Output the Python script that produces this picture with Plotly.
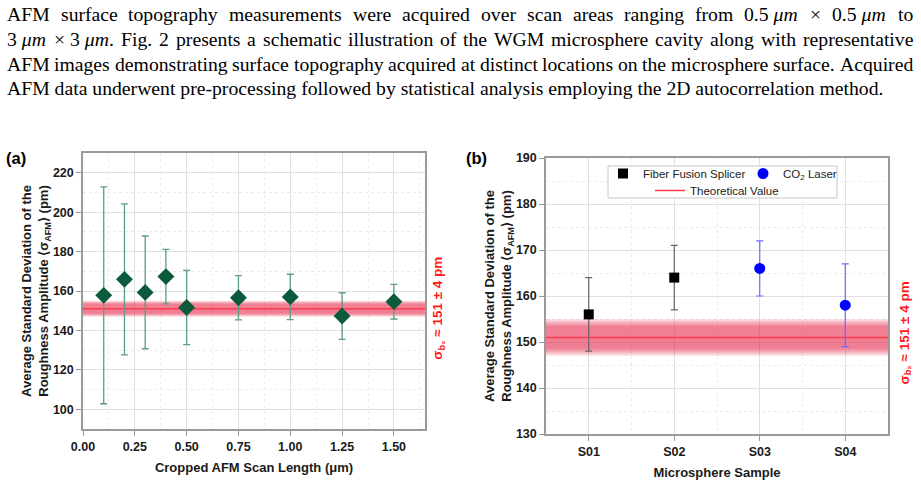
import plotly.graph_objects as go

# ---------------- data ----------------
# Panel (a)
scan_length = [0.10, 0.20, 0.30, 0.40, 0.50, 0.75, 1.00, 1.25, 1.50]
sigma_afm = [157.8, 165.9, 159.3, 167.3, 151.6, 156.6, 157.0, 147.3, 154.6]
sigma_err = [55.0, 38.3, 28.6, 13.8, 18.8, 11.2, 11.5, 11.8, 8.8]

# Panel (b)
samples = ["S01", "S02", "S03", "S04"]
fusion_samples = ["S01", "S02"]
fusion_vals = [156, 164]
fusion_err = [8, 7]
laser_samples = ["S03", "S04"]
laser_vals = [166, 158]
laser_err = [6, 9]

theo_val = 151
theo_err = 4

xrange_a = [0, 1.65]
yrange_a = [90, 230]
xrange_b = [-0.5, 3.5]
yrange_b = [130, 190]

para_justified = [
    "AFM surface topography measurements were acquired over scan areas ranging from 0.5|<i>μm</i> × 0.5|<i>μm</i> to",
    "3|<i>μm</i>  ×|3|<i>μm</i>. Fig. 2 presents a schematic illustration of the WGM microsphere cavity along with representative",
    "AFM images demonstrating surface topography acquired at distinct locations on the microsphere surface. Acquired",
]
para_last = "AFM data underwent pre-processing followed by statistical analysis employing the 2D autocorrelation method."

W, H = 921, 483
SANS = "Liberation Sans, Arial, sans-serif"
SERIF = "Liberation Serif, Times New Roman, serif"
PARA_SIZE = 19.7

# Times / Liberation Serif advance widths (1/1000 em) used to justify the paragraph
_tw = {" ": 250, ".": 250, ",": 250, "-": 333, "×": 564, "μ": 500, "|": 250}
for c in "0123456789":
    _tw[c] = 500
_tw.update(dict(zip("ABCDEFGHIJKLMNOPQRSTUVWXYZ",
                    [722, 667, 667, 722, 611, 556, 722, 722, 333, 389, 722, 611, 889, 722,
                     722, 556, 722, 667, 556, 611, 722, 722, 944, 722, 722, 611])))
_tw.update(dict(zip("abcdefghijklmnopqrstuvwxyz",
                    [444, 500, 444, 500, 444, 333, 500, 500, 278, 278, 500, 278, 778, 500,
                     500, 500, 500, 333, 389, 278, 500, 500, 722, 500, 500, 444])))


def text_width(s, size):
    plain = s.replace("<i>", "").replace("</i>", "")
    return sum(_tw.get(c, 500) for c in plain) * size / 1000.0


def justify(line, x_left, x_right, size):
    words = [w for w in line.split(" ") if w != ""]
    widths = [text_width(w, size) for w in words]
    gap = (x_right - x_left - sum(widths)) / (len(words) - 1)
    xs, cur = [], x_left
    for w in widths:
        xs.append(cur)
        cur += w + gap
    return [w.replace("|", " ") for w in words], xs


fig = go.Figure()

# gradient band (theoretical value +/- uncertainty), drawn as filled traces
for xr, xa, ya in ((xrange_a, "x", "y"), (xrange_b, "x2", "y2")):
    for f in [1.0, 0.92, 0.84, 0.76, 0.68, 0.6]:
        lo, hi = theo_val - theo_err * f, theo_val + theo_err * f
        fig.add_trace(go.Scatter(
            x=[xr[0], xr[1], xr[1], xr[0], xr[0]], y=[lo, lo, hi, hi, lo],
            mode="lines", fill="toself", fillcolor="rgba(235,40,80,0.14)",
            line=dict(width=0), showlegend=False, hoverinfo="skip",
            xaxis=xa, yaxis=ya))

# Theoretical value lines
fig.add_trace(go.Scatter(x=xrange_a, y=[theo_val, theo_val], mode="lines",
                         line=dict(color="#ff3b4e", width=1.5), showlegend=False,
                         xaxis="x", yaxis="y", hoverinfo="skip"))
fig.add_trace(go.Scatter(x=xrange_b, y=[theo_val, theo_val], mode="lines",
                         line=dict(color="#ff3b4e", width=1.5), name="Theoretical Value",
                         legend="legend2", xaxis="x2", yaxis="y2", hoverinfo="skip"))

# Panel (a) data
fig.add_trace(go.Scatter(
    x=scan_length, y=sigma_afm, mode="markers", showlegend=False,
    marker=dict(symbol="diamond", size=13, color="#0b5a3b"),
    error_y=dict(type="data", array=sigma_err, color="#5c9d83", thickness=1.3, width=3.5),
    xaxis="x", yaxis="y"))

# Panel (b) data
idx = {s: i for i, s in enumerate(samples)}
fig.add_trace(go.Scatter(
    x=[idx[s] for s in fusion_samples], y=fusion_vals, mode="markers",
    name="Fiber Fusion Splicer", legend="legend",
    marker=dict(symbol="square", size=10, color="#000000"),
    error_y=dict(type="data", array=fusion_err, color="#666666", thickness=1.2, width=3.5),
    xaxis="x2", yaxis="y2"))
fig.add_trace(go.Scatter(
    x=[idx[s] for s in laser_samples], y=laser_vals, mode="markers",
    name="CO<sub>2</sub> Laser", legend="legend3",
    marker=dict(symbol="circle", size=11, color="#0000ff"),
    error_y=dict(type="data", array=laser_err, color="#6a6aff", thickness=1.2, width=3.5),
    xaxis="x2", yaxis="y2"))

shapes = [dict(type="rect", xref="paper", yref="paper",
               x0=608 / W, x1=837 / W, y0=(H - 198) / H, y1=(H - 166) / H,
               line=dict(color="#c8c8c8", width=1), fillcolor="white", layer="above")]

tickfont = dict(family=SANS, size=12.5, color="#1a1a1a", weight="bold")
titlefont = dict(family=SANS, size=13, color="#1a1a1a", weight="bold")
axis_common = dict(showline=True, linecolor="#9a9a9a", linewidth=1.5, mirror=True,
                   ticks="outside", ticklen=5, tickcolor="#9a9a9a", tickwidth=1.2,
                   showgrid=True, gridcolor="#e0e0e0", gridwidth=1, zeroline=False,
                   tickfont=tickfont, automargin=False)
ytitle = "Average Standard Deviation of the<br>Roughness Amplitude ⟨σ<sub>AFM</sub>⟩ (pm)"
minor_style = dict(showgrid=True, gridcolor="#ececec", griddash="dot")
legend_common = dict(orientation="h", xanchor="left", yanchor="top",
                     bgcolor="rgba(0,0,0,0)", borderwidth=0,
                     font=dict(family=SANS, size=11.5, color="#222"))

fig.update_layout(
    width=W, height=H, margin=dict(l=0, r=0, t=0, b=0, autoexpand=False),
    paper_bgcolor="white", plot_bgcolor="white",
    xaxis=dict(domain=[83 / W, 425 / W], range=xrange_a, tick0=0, dtick=0.25, tickformat=".2f",
               minor=dict(dtick=0.125, **minor_style),
               title=dict(text="Cropped AFM Scan Length (μm)", font=titlefont, standoff=10),
               anchor="y", **axis_common),
    yaxis=dict(domain=[(H - 429) / H, (H - 153) / H], range=yrange_a, dtick=20,
               minor=dict(dtick=10, **minor_style),
               title=dict(text=ytitle, font=titlefont, standoff=0),
               anchor="x", **axis_common),
    xaxis2=dict(domain=[546 / W, 888 / W], range=xrange_b,
                tickvals=list(range(len(samples))), ticktext=samples,
                minor=dict(dtick=0.5, tick0=0.5, **minor_style),
                title=dict(text="Microsphere Sample", font=titlefont, standoff=10),
                anchor="y2", **axis_common),
    yaxis2=dict(domain=[(H - 434) / H, (H - 158) / H], range=yrange_b, dtick=10,
                minor=dict(dtick=5, **minor_style),
                title=dict(text=ytitle, font=titlefont, standoff=0),
                anchor="x2", **axis_common),
    legend=dict(x=603 / W, y=(H - 159) / H, **legend_common),
    legend3=dict(x=743 / W, y=(H - 159) / H, **legend_common),
    legend2=dict(x=650 / W, y=(H - 176) / H, **legend_common),
    shapes=shapes,
)

ann = []
line_y = [14, 39.5, 64, 88.5]
for i, line in enumerate(para_justified):
    words, xs = justify(line, 6, 912, PARA_SIZE)
    for word, xp in zip(words, xs):
        ann.append(dict(text=word, x=xp / W, y=(H - line_y[i]) / H, xref="paper", yref="paper",
                        xanchor="left", yanchor="middle", showarrow=False, borderpad=0,
                        font=dict(family=SERIF, size=PARA_SIZE, color="black")))
ann.append(dict(text=para_last, x=6 / W, y=(H - line_y[3]) / H, xref="paper", yref="paper",
                xanchor="left", yanchor="middle", showarrow=False, borderpad=0,
                font=dict(family=SERIF, size=PARA_SIZE, color="black")))
# panel labels
for lab, xp in (("(a)", 16), ("(b)", 476)):
    ann.append(dict(text=lab, x=xp / W, y=(H - 158) / H, xref="paper", yref="paper",
                    xanchor="center", yanchor="middle", showarrow=False,
                    font=dict(family=SANS, size=16.5, color="black", weight="bold")))
# red side labels
red_label = "σ<sub>b₂</sub> ≈ 151 ± 4 pm"
ann.append(dict(text=red_label, x=439 / W, y=theo_val, xref="paper", yref="y", textangle=-90,
                xanchor="center", yanchor="middle", showarrow=False,
                font=dict(family=SANS, size=13.5, color="#ff1a1a", weight="bold")))
ann.append(dict(text=red_label, x=905 / W, y=theo_val, xref="paper", yref="y2", textangle=-90,
                xanchor="center", yanchor="middle", showarrow=False, yshift=4,
                font=dict(family=SANS, size=13.5, color="#ff1a1a", weight="bold")))
fig.update_layout(annotations=ann)

fig.write_html("out.html")
